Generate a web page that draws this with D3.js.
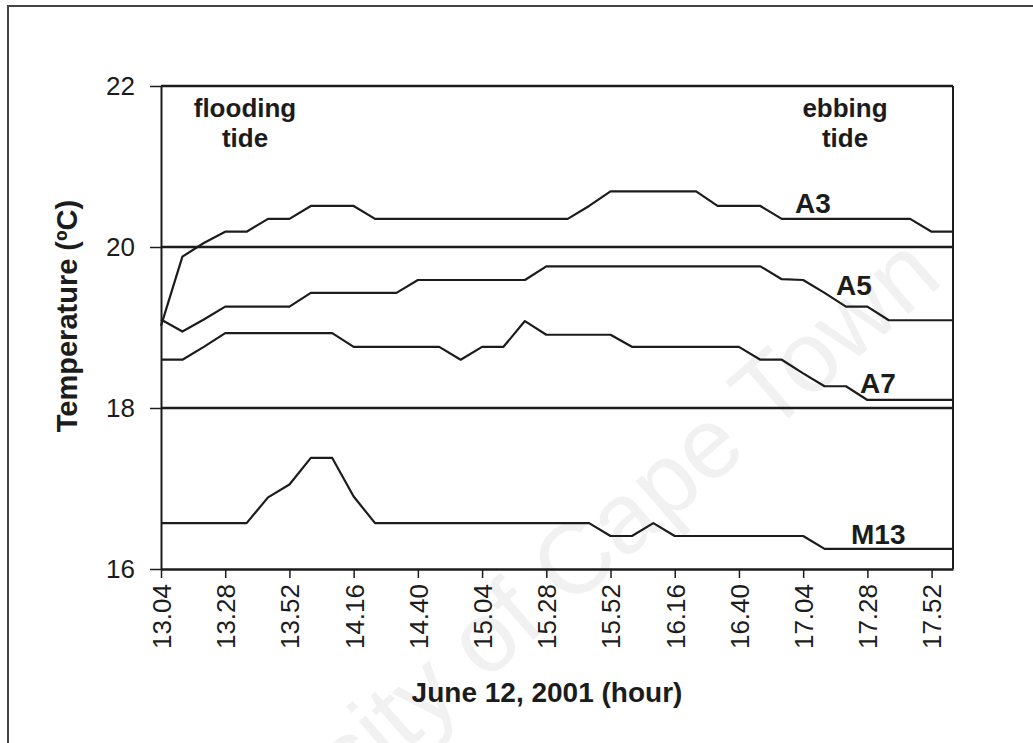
<!DOCTYPE html>
<html>
<head>
<meta charset="utf-8">
<script src="https://cdn.jsdelivr.net/npm/d3@7"></script>
<style>
  body { margin: 0; background: #fff; }
  svg { display: block; font-family: Arial, "Liberation Sans", sans-serif; }
</style>
</head>
<body>
<div id="chart"></div>
<script>
// minutes after midnight, one reading every 8 min from 13:04 to 18:00
const startMin = 13 * 60 + 4
const endMin = 18 * 60
const times = d3.range(38).map(i => startMin + i * 8)

const a3 = [19.02, 19.88, 20.05, 20.19, 20.19, 20.35, 20.35, 20.51, 20.51, 20.51,
    20.35, 20.35, 20.35, 20.35, 20.35, 20.35, 20.35, 20.35, 20.35, 20.35,
    20.51, 20.69, 20.69, 20.69, 20.69, 20.69, 20.51, 20.51, 20.51, 20.35,
    20.35, 20.35, 20.35, 20.35, 20.35, 20.35, 20.19, 20.19]
const a5 = [19.10, 18.95, 19.10, 19.26, 19.26, 19.26, 19.26, 19.43, 19.43, 19.43,
    19.43, 19.43, 19.59, 19.59, 19.59, 19.59, 19.59, 19.59, 19.76, 19.76,
    19.76, 19.76, 19.76, 19.76, 19.76, 19.76, 19.76, 19.76, 19.76, 19.60,
    19.59, 19.43, 19.26, 19.26, 19.09, 19.09, 19.09, 19.09]
const a7 = [18.60, 18.60, 18.76, 18.93, 18.93, 18.93, 18.93, 18.93, 18.93, 18.76,
    18.76, 18.76, 18.76, 18.76, 18.60, 18.76, 18.76, 19.08, 18.91, 18.91,
    18.91, 18.91, 18.76, 18.76, 18.76, 18.76, 18.76, 18.76, 18.60, 18.60,
    18.43, 18.27, 18.27, 18.10, 18.10, 18.10, 18.10, 18.10]
const m13 = [16.57, 16.57, 16.57, 16.57, 16.57, 16.89, 17.05, 17.38, 17.38, 16.90,
    16.57, 16.57, 16.57, 16.57, 16.57, 16.57, 16.57, 16.57, 16.57, 16.57,
    16.57, 16.41, 16.41, 16.57, 16.41, 16.41, 16.41, 16.41, 16.41, 16.41,
    16.41, 16.25, 16.25, 16.25, 16.25, 16.25, 16.25, 16.25]

const seriesNames = ['A3', 'A5', 'A7', 'M13']
const seriesValues = [a3, a5, a7, m13]
const labelPos = [[795, 213], [836, 295], [860, 393], [851, 544]]

const xTickValues = d3.range(13).map(k => startMin + k * 24)
const yTickValues = [16, 18, 20, 22]

const width = 1033, height = 743
const ink = '#1c1c1c'

const svg = d3.select('#chart').append('svg').attr('width', width).attr('height', height)

// outer frame, running off the right and bottom edge
svg.append('rect').attr('x', 8).attr('y', 6).attr('width', 1100).attr('height', 800).
    attr('fill', 'none').attr('stroke', '#444').attr('stroke-width', 2)

// watermark
svg.append('text').attr('transform', 'translate(945,282) rotate(-41)').
    attr('text-anchor', 'end').attr('font-size', 100).attr('fill', '#f1f1f1').
    text('University of Cape Town')

const x = d3.scaleLinear().domain([startMin, endMin]).range([161, 953])
const y = d3.scaleLinear().domain([16, 22]).range([569, 86])

// gridlines
svg.append('g').selectAll('line').data([18, 20, 22]).enter().append('line').
    attr('x1', 161).attr('x2', 953).
    attr('y1', d => y(d)).attr('y2', d => y(d)).
    attr('stroke', ink).attr('stroke-width', 2.5)

// right border
svg.append('line').attr('x1', 953).attr('x2', 953).attr('y1', y(22)).attr('y2', y(16)).
    attr('stroke', ink).attr('stroke-width', 2)

const fmt = m => Math.floor(m / 60) + '.' + String(m % 60).padStart(2, '0')

const xAxis = svg.append('g').attr('transform', `translate(0,${y(16)})`).
    call(d3.axisBottom(x).tickValues(xTickValues).tickFormat(fmt).tickSize(9).tickSizeOuter(0))
xAxis.select('.domain').attr('stroke', ink).attr('stroke-width', 2.5)
xAxis.selectAll('.tick line').attr('stroke', ink).attr('stroke-width', 1.5)
xAxis.selectAll('.tick text').attr('font-size', 26).attr('fill', ink).
    attr('font-family', 'Arial, "Liberation Sans", sans-serif').
    attr('transform', 'rotate(-90)').attr('text-anchor', 'end').
    attr('x', -15).attr('y', 0).attr('dy', '0.36em')

const yAxis = svg.append('g').attr('transform', 'translate(161,0)').
    call(d3.axisLeft(y).tickValues(yTickValues).tickFormat(d3.format('d')).tickSize(11).tickPadding(15).tickSizeOuter(0))
yAxis.select('.domain').attr('stroke', ink).attr('stroke-width', 2)
yAxis.selectAll('.tick line').attr('stroke', ink).attr('stroke-width', 1.5)
yAxis.selectAll('.tick text').attr('font-size', 26).attr('fill', ink).
    attr('font-family', 'Arial, "Liberation Sans", sans-serif')

// series
const line = d3.line().x((d, i) => x(times[i])).y(d => y(d))
svg.append('g').selectAll('path').data(seriesValues).enter().append('path').
    attr('d', d => line(d)).attr('fill', 'none').
    attr('stroke', ink).attr('stroke-width', 2.2).attr('stroke-linejoin', 'round')

svg.append('g').selectAll('text').data(seriesNames).enter().append('text').
    attr('x', (d, i) => labelPos[i][0]).attr('y', (d, i) => labelPos[i][1]).
    attr('font-size', 28).attr('font-weight', 'bold').attr('fill', ink).
    text(d => d)

// tide annotations
const notes = [{ lines: ['flooding', 'tide'], cx: 245 }, { lines: ['ebbing', 'tide'], cx: 845 }]
notes.forEach(n => {
    svg.append('text').attr('text-anchor', 'middle').attr('font-size', 26).
        attr('font-weight', 'bold').attr('fill', ink).
        selectAll('tspan').data(n.lines).enter().append('tspan').
        attr('x', n.cx).attr('y', (d, i) => 117 + i * 30).text(d => d)
})

// axis titles
svg.append('text').attr('transform', 'translate(77,316) rotate(-90)').
    attr('text-anchor', 'middle').attr('font-size', 29).attr('font-weight', 'bold').
    attr('fill', ink).text('Temperature (ºC)')

svg.append('text').attr('x', 547).attr('y', 702).attr('text-anchor', 'middle').
    attr('font-size', 28).attr('font-weight', 'bold').attr('fill', ink).
    text('June 12, 2001 (hour)')
</script>
</body>
</html>
